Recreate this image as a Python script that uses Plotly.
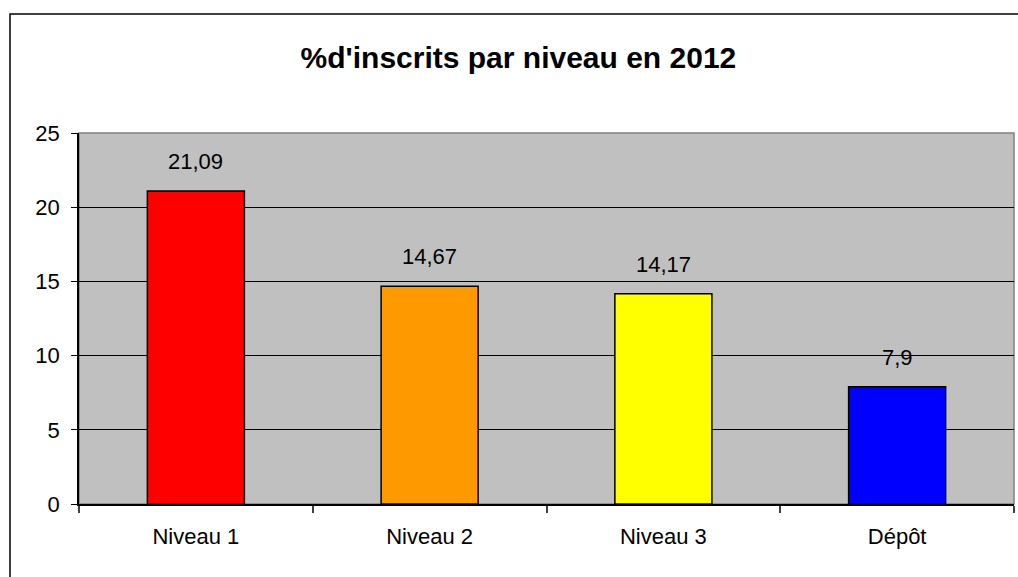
import plotly.graph_objects as go

# data
niveaux = ["Niveau 1", "Niveau 2", "Niveau 3", "Dépôt"]
pct_inscrits = [21.09, 14.67, 14.17, 7.9]
bar_colors = ["#FF0000", "#FF9900", "#FFFF00", "#0000FF"]
y_ticks = [0, 5, 10, 15, 20, 25]

FONT = "Arial, Liberation Sans, sans-serif"
W, H = 1018, 577

fig = go.Figure(go.Bar(
    x=niveaux,
    y=pct_inscrits,
    marker=dict(color=bar_colors, line=dict(color="#000000", width=1.5)),
    hoverinfo="x+y",
))

# value labels, comma as decimal separator
for name, val in zip(niveaux, pct_inscrits):
    fig.add_annotation(
        x=name, y=val, text=f"{val:g}".replace(".", ","),
        showarrow=False, yanchor="bottom", yshift=15,
        font=dict(family=FONT, size=22, color="#000000"),
    )

# plot-area frame (gray) and outer chart border (black)
fig.add_shape(type="rect", xref="paper", yref="paper", x0=0, x1=1, y0=0, y1=1,
              line=dict(color="#808080", width=1.5), layer="below")
fig.add_shape(type="rect", xref="paper", yref="paper",
              x0=-0.0738, x1=1.5, y0=-0.5, y1=1.3208,
              line=dict(color="#000000", width=1.5))

fig.update_layout(
    title=dict(
        text="<b>%d'inscrits par niveau en 2012</b>",
        x=0.47, xref="paper", xanchor="center",
        y=1 - 57 / H, yanchor="middle",
        font=dict(family=FONT, size=30, color="#000000"),
    ),
    width=W, height=H,
    margin=dict(l=79, r=4, t=133, b=73),
    paper_bgcolor="#FFFFFF",
    plot_bgcolor="#C0C0C0",
    bargap=0.585,
    showlegend=False,
    xaxis=dict(
        type="category",
        tickson="boundaries",
        ticks="outside", ticklen=7, tickcolor="#404040", tickwidth=1.5,
        showgrid=False,
        showline=True, linecolor="#000000", linewidth=1.5,
        tickfont=dict(family=FONT, size=22, color="#000000"),
        ticklabelstandoff=12,
    ),
    yaxis=dict(
        range=[0, 25],
        tickvals=y_ticks,
        ticks="outside", ticklen=6, tickcolor="#000000", tickwidth=1,
        showgrid=True, gridcolor="#000000", gridwidth=1,
        zeroline=False,
        showline=True, linecolor="#000000", linewidth=1.5,
        tickfont=dict(family=FONT, size=22, color="#000000"),
        ticklabelstandoff=7,
    ),
)

# drop the default page margin so the chart fills the window exactly
fig.write_html(
    "out.html",
    config={"displayModeBar": False},
    post_script="document.body.style.margin='0';document.body.style.overflow='hidden';",
)
